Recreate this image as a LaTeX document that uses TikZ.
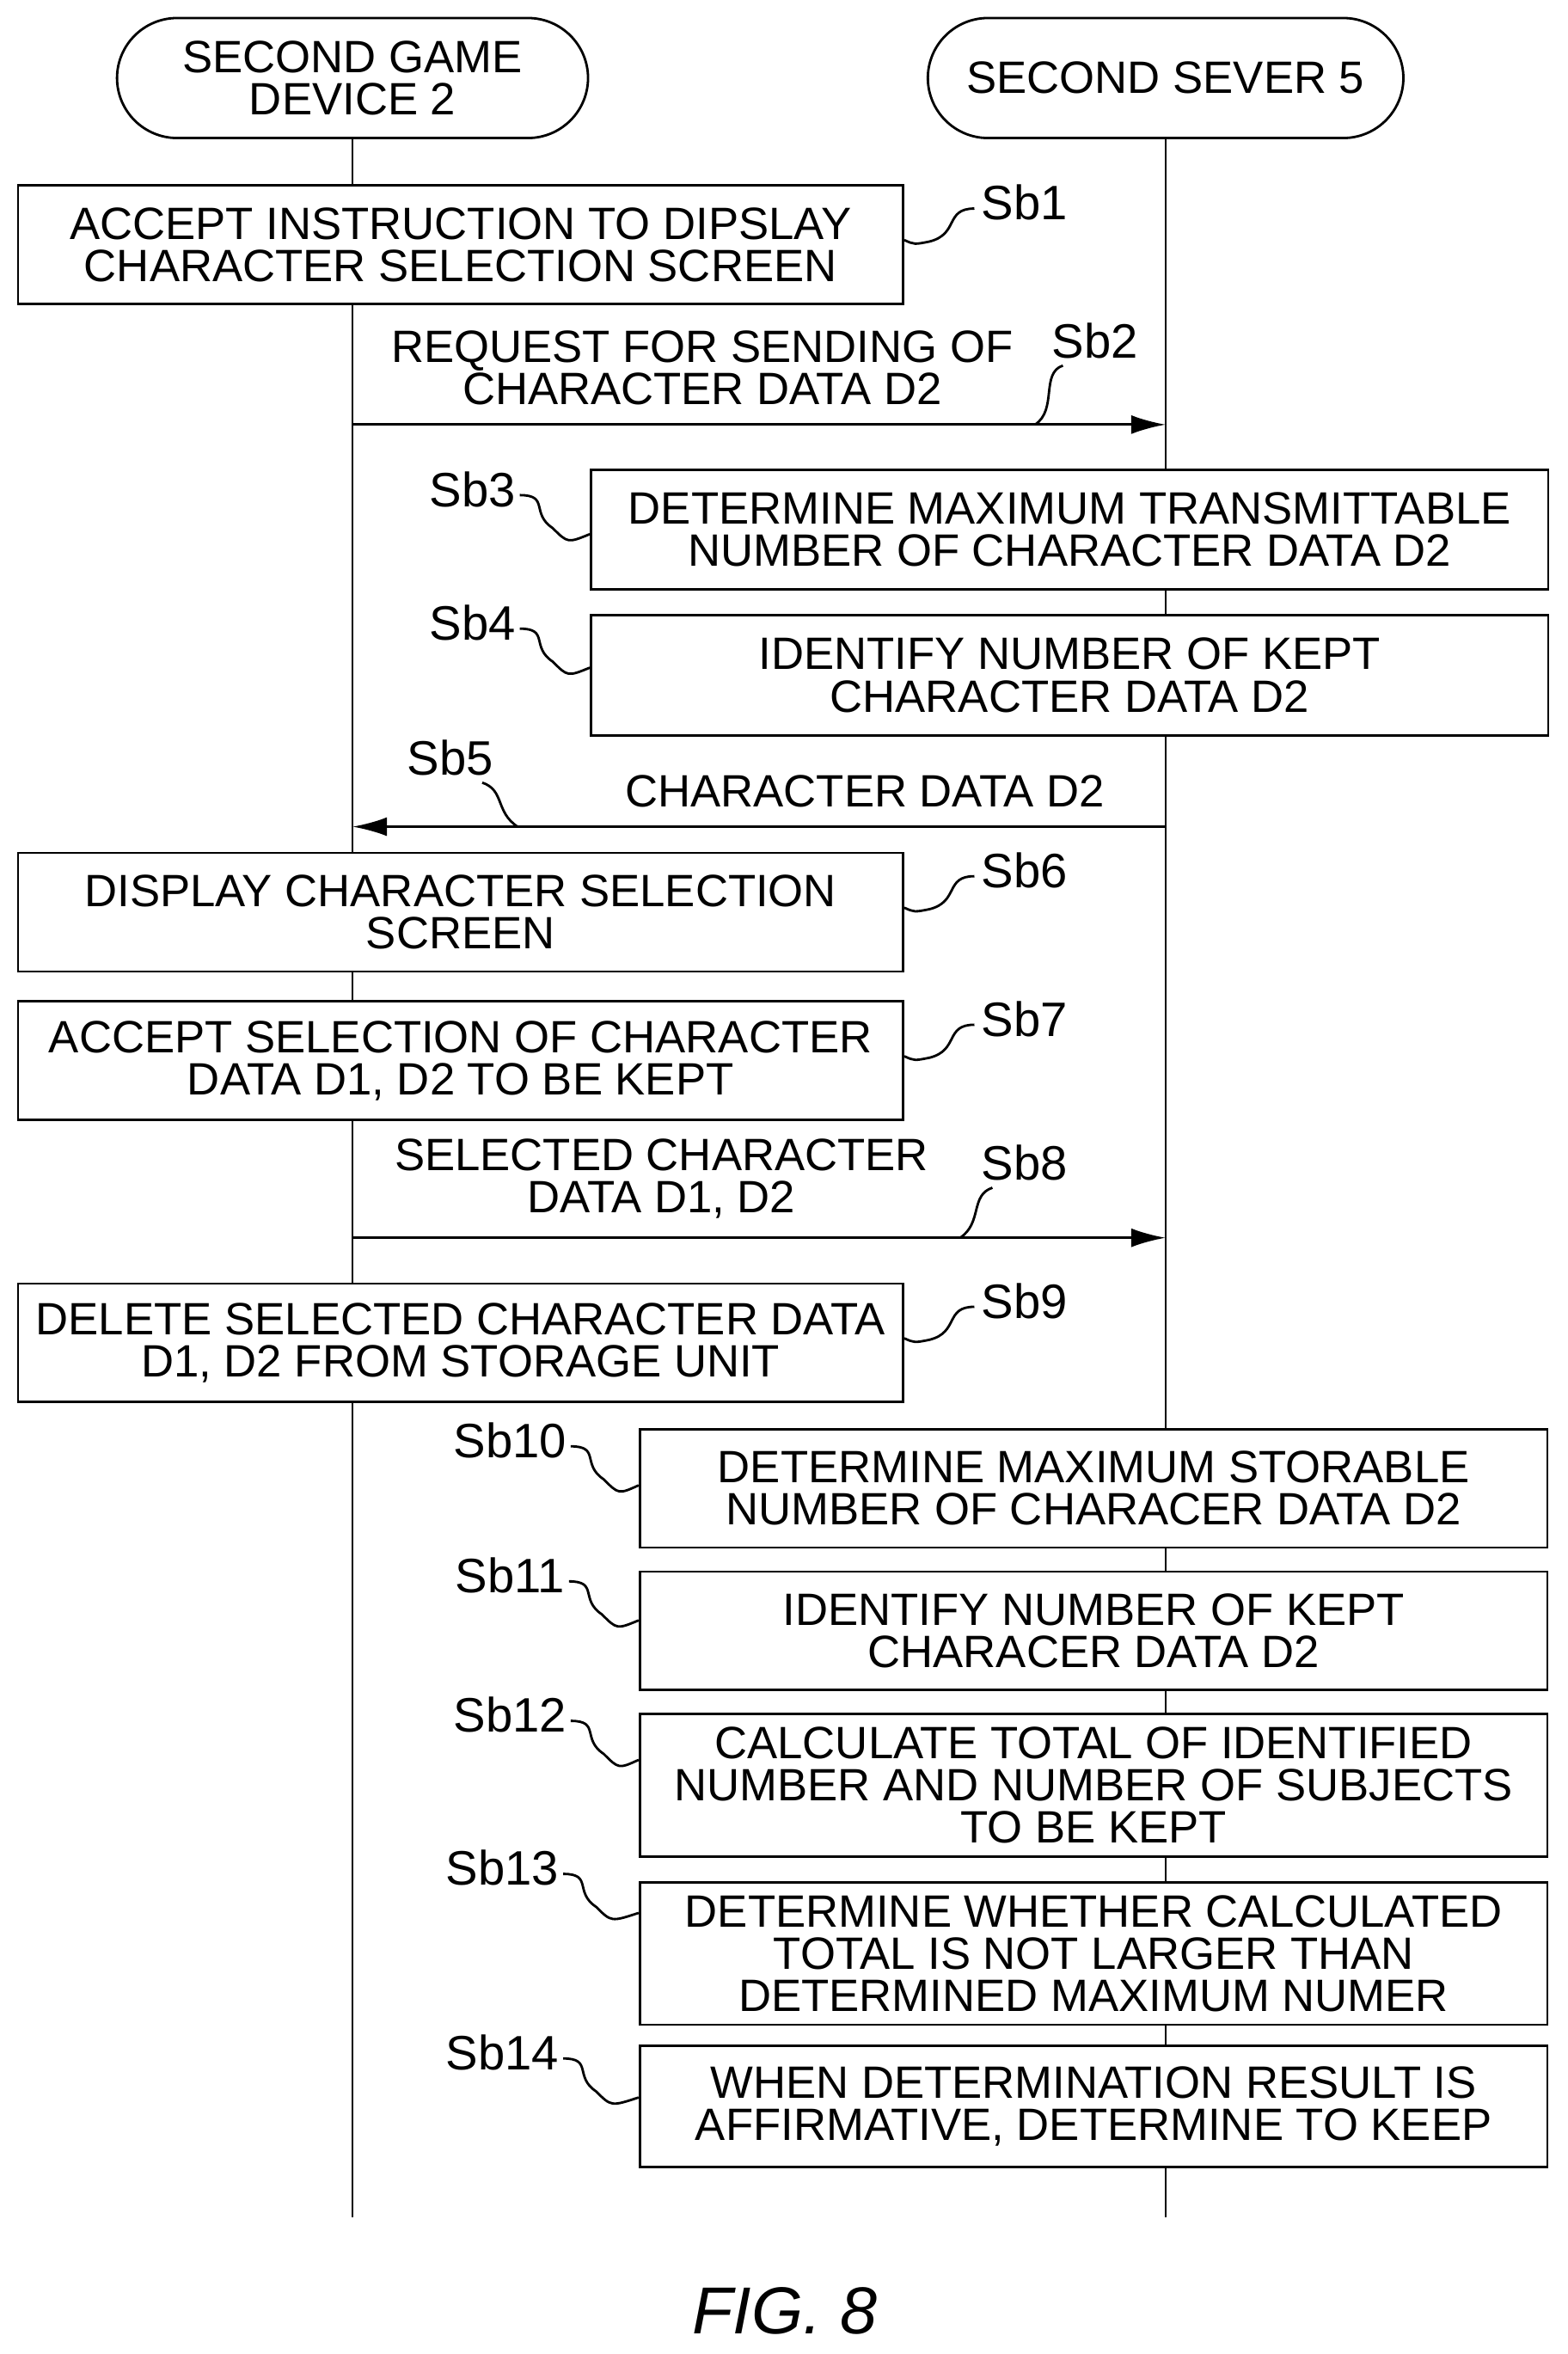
\documentclass[tikz,border=0pt]{standalone}
\usepackage{fontspec}
\setmainfont{Liberation Sans}
\usetikzlibrary{arrows.meta}

\begin{document}
\begin{tikzpicture}[x=0.01745cm,y=-0.01745cm,line width=0.8pt,
    every node/.style={font=\fontsize{15}{14}\selectfont,align=center,inner sep=0pt},
    procbox/.style={draw},
    head/.style={draw,rounded corners=0.7cm},
    tag/.style={font=\fontsize{16}{16}\selectfont},
    msg/.style={-{Latex[length=4mm,width=2.2mm]}}]
        \useasboundingbox (0,0) rectangle (1045,1569);

        % lifelines
        \node[head,minimum width=314*0.01745cm,minimum height=80*0.01745cm] (dev) at (235,52) {SECOND GAME\\DEVICE 2};
        \node[head,minimum width=317*0.01745cm,minimum height=80*0.01745cm] (srv) at (777,52) {SECOND SEVER 5};
        \coordinate (devend) at (235,1478);
        \coordinate (srvend) at (777,1478);
        \draw (dev.south) -- (devend);
        \draw (srv.south) -- (srvend);

        % game device boxes
        \foreach \n/\y/\txt in {1/163/{ACCEPT INSTRUCTION TO DIPSLAY\\CHARACTER SELECTION SCREEN},
                                6/608/{DISPLAY CHARACTER SELECTION\\SCREEN},
                                7/707/{ACCEPT SELECTION OF CHARACTER\\DATA D1, D2 TO BE KEPT},
                                9/895/{DELETE SELECTED CHARACTER DATA\\D1, D2 FROM STORAGE UNIT}} {
          \node[procbox,fill=white,minimum width=590*0.01745cm,minimum height=79*0.01745cm] (b\n) at (307,\y) {\txt};
          \node[tag] (t\n) at (683,\y-28) {Sb\n};
          \draw (t\n.west) ++(-4,4) .. controls +(-20,0) and +(20,-5) .. ++(-30,22) .. controls +(-10,2) .. (b\n.east |- 0,\y-3);
        }

        % server boxes
        \foreach \n/\x/\y/\w/\h/\lx/\ly/\txt in {
            3/713/353/638/80/315/326/{DETERMINE MAXIMUM TRANSMITTABLE\\NUMBER OF CHARACTER DATA D2},
            4/713/450/638/80/315/415/{IDENTIFY NUMBER OF KEPT\\CHARACTER DATA D2},
            10/729/992/605/79/340/960/{DETERMINE MAXIMUM STORABLE\\NUMBER OF CHARACER DATA D2},
            11/729/1087/605/79/340/1050/{IDENTIFY NUMBER OF KEPT\\CHARACER DATA D2},
            12/729/1190/605/95/340/1143/{CALCULATE TOTAL OF IDENTIFIED\\NUMBER AND NUMBER OF SUBJECTS\\TO BE KEPT},
            13/729/1302/605/95/335/1245/{DETERMINE WHETHER CALCULATED\\TOTAL IS NOT LARGER THAN\\DETERMINED MAXIMUM NUMER},
            14/729/1404/605/81/335/1368/{WHEN DETERMINATION RESULT IS\\AFFIRMATIVE, DETERMINE TO KEEP}} {
          \node[procbox,fill=white,minimum width=\w*0.01745cm,minimum height=\h*0.01745cm] (b\n) at (\x,\y) {\txt};
          \node[tag] (t\n) at (\lx,\ly) {Sb\n};
          \draw (t\n.east) ++(2,4) .. controls +(20,0) and +(-15,-10) .. ++(22,22) .. controls +(10,10) .. (b\n.west |- 0,\ly+30);
        }

        % messages
        \coordinate (m2a) at (235,283);
        \coordinate (m2b) at (777,283);
        \draw[msg] (m2a) -- (m2b) node[pos=0.43,above=6pt] {REQUEST FOR SENDING OF\\CHARACTER DATA D2};
        \node[tag] (t2) at (730,227) {Sb2};
        \draw (t2.south west) ++(8,4) .. controls +(-15,5) and +(15,-10) .. (690,283);

        \coordinate (m5a) at (777,551);
        \coordinate (m5b) at (235,551);
        \draw[msg] (m5a) -- (m5b) node[pos=0.37,above=6pt] {CHARACTER DATA D2};
        \node[tag] (t5) at (300,505) {Sb5};
        \draw (t5.south east) ++(-8,4) .. controls +(15,5) and +(-15,-10) .. (345,551);

        \coordinate (m8a) at (235,825);
        \coordinate (m8b) at (777,825);
        \draw[msg] (m8a) -- (m8b) node[pos=0.38,above=6pt] {SELECTED CHARACTER\\DATA D1, D2};
        \node[tag] (t8) at (683,775) {Sb8};
        \draw (t8.south west) ++(8,4) .. controls +(-15,5) and +(15,-10) .. (640,825);

        \node[font=\itshape\fontsize{22}{22}\selectfont] (fig) at (523,1540) {FIG.\ 8};
      \end{tikzpicture}
\end{document}
